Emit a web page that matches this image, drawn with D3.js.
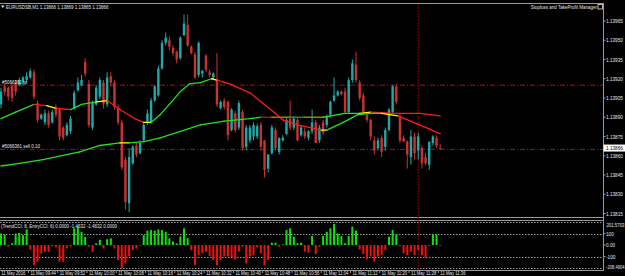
<!DOCTYPE html>
<html>
<head>
<meta charset="utf-8">
<script src="https://cdn.jsdelivr.net/npm/d3@7"></script>
<style>
  html, body { margin: 0; padding: 0; background: #000; overflow: hidden; }
  svg { display: block; }
  text { font-family: "Liberation Sans", Arial, sans-serif; fill: #e6e6e6; }
</style>
</head>
<body>
<svg id="chart" width="625" height="276"></svg>
<script>
// EURUSDSB M1, 11 May 2016 09:36 - 11:36 (one bar per minute)
const open = [
  1.13900,1.13914,1.13913,1.13914,1.13917,1.13915,1.13917,1.13919,1.13921,1.13925,
  1.13901,1.13889,1.13886,1.13893,1.13886,1.13898,1.13896,1.13882,1.13876,1.13879,
  1.13897,1.13911,1.13915,1.13933,1.13916,1.13882,1.13900,1.13906,1.13917,1.13900,
  1.13922,1.13917,1.13897,1.13886,1.13857,1.13823,1.13854,1.13868,1.13862,1.13872,
  1.13886,1.13886,1.13903,1.13907,1.13928,1.13948,1.13950,1.13944,1.13941,1.13936,
  1.13954,1.13962,1.13945,1.13939,1.13923,1.13924,1.13938,1.13925,1.13921,1.13919,
  1.13897,1.13903,1.13902,1.13880,1.13893,1.13882,1.13894,1.13867,1.13872,1.13875,
  1.13875,1.13884,1.13872,1.13850,1.13862,1.13880,1.13863,1.13872,1.13877,1.13889,
  1.13882,1.13888,1.13876,1.13879,1.13874,1.13879,1.13886,1.13872,1.13886,1.13884,
  1.13892,1.13903,1.13907,1.13910,1.13910,1.13894,1.13919,1.13931,1.13917,1.13907,
  1.13892,1.13888,1.13872,1.13866,1.13874,1.13867,1.13880,1.13894,1.13914,1.13890,
  1.13874,1.13871,1.13859,1.13875,1.13864,1.13866,1.13859,1.13853,1.13870,1.13874,
  1.13866
];
const high = [
  1.13913,1.13916,1.13914,1.13917,1.13919,1.13921,1.13922,1.13925,1.13928,1.13927,
  1.13903,1.13893,1.13896,1.13895,1.13896,1.13900,1.13897,1.13883,1.13886,1.13891,
  1.13911,1.13921,1.13923,1.13936,1.13919,1.13903,1.13915,1.13921,1.13919,1.13925,
  1.13925,1.13919,1.13900,1.13888,1.13859,1.13866,1.13868,1.13870,1.13872,1.13886,
  1.13896,1.13905,1.13915,1.13930,1.13950,1.13956,1.13953,1.13946,1.13942,1.13953,
  1.13970,1.13970,1.13946,1.13941,1.13949,1.13927,1.13939,1.13927,1.13925,1.13940,
  1.13903,1.13905,1.13903,1.13897,1.13895,1.13903,1.13896,1.13884,1.13884,1.13886,
  1.13885,1.13886,1.13872,1.13861,1.13884,1.13882,1.13874,1.13876,1.13889,1.13903,
  1.13891,1.13890,1.13884,1.13882,1.13880,1.13896,1.13888,1.13884,1.13888,1.13892,
  1.13903,1.13921,1.13911,1.13911,1.13913,1.13921,1.13935,1.13941,1.13919,1.13909,
  1.13894,1.13889,1.13875,1.13874,1.13876,1.13882,1.13897,1.13915,1.13916,1.13893,
  1.13876,1.13872,1.13880,1.13878,1.13878,1.13868,1.13862,1.13871,1.13876,1.13876,
  1.13869
];
const low = [
  1.13897,1.13907,1.13903,1.13902,1.13907,1.13914,1.13915,1.13917,1.13920,1.13904,
  1.13886,1.13888,1.13884,1.13882,1.13885,1.13890,1.13872,1.13872,1.13875,1.13877,
  1.13896,1.13910,1.13914,1.13922,1.13882,1.13880,1.13899,1.13904,1.13897,1.13898,
  1.13914,1.13896,1.13884,1.13849,1.13818,1.13816,1.13853,1.13859,1.13861,1.13871,
  1.13884,1.13885,1.13902,1.13906,1.13927,1.13946,1.13942,1.13938,1.13932,1.13935,
  1.13953,1.13945,1.13939,1.13920,1.13921,1.13921,1.13925,1.13921,1.13919,1.13898,
  1.13896,1.13896,1.13872,1.13879,1.13878,1.13880,1.13864,1.13864,1.13870,1.13872,
  1.13873,1.13864,1.13843,1.13847,1.13861,1.13864,1.13861,1.13871,1.13876,1.13880,
  1.13880,1.13871,1.13875,1.13873,1.13872,1.13877,1.13870,1.13870,1.13876,1.13882,
  1.13890,1.13902,1.13906,1.13907,1.13893,1.13893,1.13917,1.13917,1.13903,1.13893,
  1.13886,1.13872,1.13861,1.13864,1.13859,1.13864,1.13879,1.13893,1.13900,1.13870,
  1.13871,1.13850,1.13853,1.13857,1.13857,1.13850,1.13853,1.13849,1.13868,1.13866,
  1.13865
];
const close = [
  1.13910,1.13910,1.13906,1.13905,1.13910,1.13919,1.13921,1.13922,1.13926,1.13906,
  1.13888,1.13892,1.13893,1.13884,1.13894,1.13892,1.13875,1.13874,1.13884,1.13889,
  1.13909,1.13917,1.13919,1.13924,1.13884,1.13901,1.13913,1.13919,1.13900,1.13921,
  1.13917,1.13898,1.13886,1.13851,1.13824,1.13859,1.13867,1.13861,1.13870,1.13884,
  1.13893,1.13903,1.13914,1.13928,1.13948,1.13952,1.13945,1.13940,1.13935,1.13952,
  1.13963,1.13946,1.13940,1.13921,1.13948,1.13926,1.13927,1.13923,1.13924,1.13900,
  1.13902,1.13898,1.13876,1.13896,1.13880,1.13901,1.13866,1.13882,1.13882,1.13884,
  1.13883,1.13867,1.13849,1.13861,1.13882,1.13866,1.13874,1.13874,1.13888,1.13882,
  1.13889,1.13872,1.13882,1.13875,1.13879,1.13886,1.13870,1.13882,1.13878,1.13890,
  1.13902,1.13907,1.13910,1.13908,1.13894,1.13919,1.13932,1.13919,1.13905,1.13894,
  1.13888,1.13875,1.13864,1.13872,1.13863,1.13880,1.13896,1.13914,1.13902,1.13872,
  1.13871,1.13861,1.13875,1.13862,1.13875,1.13854,1.13854,1.13871,1.13875,1.13868,
  1.13866
];

// TrendCCI histogram, one value per bar
const cci = [
  100,90,-15,15,100,105,85,135,-40,-175,
  -145,-75,-60,-60,-10,-20,-145,-145,-30,-15,
  145,160,115,70,-15,-60,15,45,-30,50,
  58,-30,-130,-200,-160,-100,-45,-30,-5,85,
  125,130,125,135,130,115,58,30,15,75,
  145,58,-45,-175,-87,-72,-58,-95,-130,-175,
  -130,-100,-100,-110,-125,-58,-15,-160,-100,-87,
  -20,-72,-175,-130,20,20,-15,5,130,145,
  72,15,20,-58,-67,78,-78,-15,78,115,
  145,183,100,78,15,78,160,125,-38,-78,
  -125,-100,-145,-100,-87,-43,72,130,95,-10,
  -72,-87,-58,-87,-43,-87,-110,-10,92,92,
  -1.4632
];

// coloured moving averages: bar index, value, state
const fastIdx = [0,4,9,12.5,15,19,22,26,29,32.5,36.5,39,41,43.5,46,49,51.5,54.5,57.5,59,
  62.5,68,71.5,74.5,77,81,84.5,87.5,89,93.5,97.5,101,104,108.5,113.5,117,120];
const fastVal = [1.13889,1.13894,1.13900,1.13899,1.13897,1.13896,1.13900,1.13902,1.13903,1.13896,
  1.13889,1.13886,1.13886,1.13892,1.13900,1.13910,1.13916,1.13917,1.13920,1.13919,
  1.13916,1.13909,1.13901,1.13894,1.13888,1.13884,1.13882,1.13880,1.13880,1.13886,
  1.13892,1.13893,1.13893,1.13891,1.13885,1.13881,1.13877];
const fastState = ["up","up","down","flat","down","up","up","flat","down","down",
  "down","flat","up","up","up","up","up","up","flat","down",
  "down","down","down","down","down","down","down","flat","up","up",
  "up","up","flat","down","down","down","down"];

const slowIdx = [0,5,11.5,21.5,27,32.5,35,39,43.5,49,54.5,61,68,71,74,79,83,88,94,98,101,108,114.5,120];
const slowVal = [1.13852,1.13854,1.13857,1.13863,1.13868,1.13870,1.13870,1.13871,1.13874,1.13879,
  1.13884,1.13887,1.13889,1.13890,1.13890,1.13890,1.13890,1.13890,1.13893,1.13893,
  1.13894,1.13893,1.13893,1.13891];
const slowState = ["up","up","up","up","up","flat","up","up","up","up",
  "up","up","up","weakDown","weakFlat","weakUp","weakFlat","up","up","flat",
  "down","down","down","down"];

const priceTicks = [1.13965,1.13950,1.13935,1.13920,1.13905,1.13890,1.13875,1.13860,1.13845,1.13830,1.13815];
const lastPrice = 1.13866;
const tpPrice = 1.13915;
const sellPrice = 1.13865;
const separatorBar = 114;

const cciLevels = [200,100,-100,-200];
const cciAxis = [[100,"100"],[0,"0.00"],[-100,"-100"]];
const cciMax = "201.5703";
const cciMin = "-208.4904";

const timeIdx = [0,8,16,24,32,40,48,56,64,72,80,88,96,104,112,120];
const timeLabels = ["11 May 2016","11 May 09:44","11 May 09:52","11 May 10:00","11 May 10:08",
  "11 May 10:16","11 May 10:24","11 May 10:32","11 May 10:40","11 May 10:48","11 May 10:56",
  "11 May 11:04","11 May 11:12","11 May 11:20","11 May 11:28","11 May 11:36"];

const titleText = "EURUSDSB,M1  1.13866 1.13869 1.13865 1.13866";
const cciTitle = "(TrendCCI: 8, EntryCCI: 6) 0.0000 -1.4632 -1.4632 0.0000";

// ---------------------------------------------------------------
const svg = d3.select("#chart");
const plotRight = 603;
const n = open.length;
const step = 3.66;

const x = d3.scaleLinear().domain([0, n - 1]).range([1, 1 + (n - 1) * step]);
const y = d3.scaleLinear().domain([1.13815, 1.13965]).range([213.5, 21]);
const yc = d3.scaleLinear().domain([-200, 200]).range([268, 222]);

const bull = "#1fa9a9";
const bear = "#c83232";
const maColor = {
  up: "#22e022", down: "#ff1a1a", flat: "#ffff00",
  weakUp: "#1a8c1a", weakDown: "#8c1a1a", weakFlat: "#8c8c00"
};
const grey = "#9a9a9a";

function label(g, px, py, s, anchor, size) {
  return g.append("text")
    .attr("transform", `translate(${px},${py}) scale(0.82,1)`)
    .attr("font-size", size || 5.5)
    .attr("text-anchor", anchor || "start")
    .text(s);
}

svg.append("rect").attr("width", 625).attr("height", 276).attr("fill", "#000");

// window frames
const frame = svg.append("g").attr("stroke", grey).attr("stroke-width", 1);
frame.append("line").attr("x1", 0).attr("x2", plotRight).attr("y1", 3.5).attr("y2", 3.5);
frame.append("line").attr("x1", 0).attr("x2", plotRight).attr("y1", 217.5).attr("y2", 217.5);
frame.append("line").attr("x1", 0).attr("x2", plotRight).attr("y1", 220.5).attr("y2", 220.5);
frame.append("line").attr("x1", 0).attr("x2", plotRight).attr("y1", 270.5).attr("y2", 270.5);
frame.append("line").attr("x1", plotRight + 0.5).attr("x2", plotRight + 0.5).attr("y1", 3).attr("y2", 271);

// order lines
svg.append("line")
  .attr("x1", 0).attr("x2", plotRight)
  .attr("y1", y(tpPrice)).attr("y2", y(tpPrice))
  .attr("stroke", "#b01010").attr("stroke-dasharray", "5,2,1,2");
svg.append("line")
  .attr("x1", 0).attr("x2", plotRight)
  .attr("y1", y(sellPrice)).attr("y2", y(sellPrice))
  .attr("stroke", "#3a3a88").attr("stroke-dasharray", "5,2,1,2");

// CCI levels
svg.append("g").selectAll("line")
  .data(cciLevels)
  .join("line")
  .attr("x1", 0).attr("x2", plotRight)
  .attr("y1", (d) => Math.round(yc(d)) + 0.5)
  .attr("y2", (d) => Math.round(yc(d)) + 0.5)
  .attr("stroke", grey)
  .attr("stroke-dasharray", "1.5,1.5");

// separator
svg.append("line")
  .attr("x1", x(separatorBar)).attr("x2", x(separatorBar))
  .attr("y1", 4).attr("y2", 270)
  .attr("stroke", "#8c0000")
  .attr("stroke-dasharray", "2,1");

// candles
const bars = d3.range(n);
const colorOf = (i) => (close[i] > open[i] ? bull : bear);

svg.append("g").selectAll("line")
  .data(bars)
  .join("line")
  .attr("x1", (i) => x(i)).attr("x2", (i) => x(i))
  .attr("y1", (i) => y(high[i])).attr("y2", (i) => y(low[i]))
  .attr("stroke", colorOf)
  .attr("stroke-width", 1);

svg.append("g").selectAll("rect")
  .data(bars)
  .join("rect")
  .attr("x", (i) => x(i) - 1.2)
  .attr("width", 2.4)
  .attr("y", (i) => y(Math.max(open[i], close[i])))
  .attr("height", (i) => Math.max(1, Math.abs(y(open[i]) - y(close[i]))))
  .attr("fill", colorOf);

// moving averages, drawn segment by segment in their state colour
function drawMA(idx, val, state) {
  const segs = d3.range(idx.length - 1).map((k) => ({
    pts: [[idx[k], val[k]], [idx[k + 1], val[k + 1]]],
    s: state[k]
  }));
  const line = d3.line().x((d) => x(d[0])).y((d) => y(d[1]));
  svg.append("g").selectAll("path")
    .data(segs)
    .join("path")
    .attr("d", (d) => line(d.pts))
    .attr("fill", "none")
    .attr("stroke", (d) => maColor[d.s])
    .attr("stroke-width", 1.3)
    .attr("stroke-linecap", "round");
}
drawMA(slowIdx, slowVal, slowState);
drawMA(fastIdx, fastVal, fastState);

// CCI histogram
svg.append("g").selectAll("rect")
  .data(bars)
  .join("rect")
  .attr("x", (i) => x(i) - 1)
  .attr("width", 2)
  .attr("y", (i) => Math.min(yc(cci[i]), yc(0)))
  .attr("height", (i) => Math.max(0.8, Math.abs(yc(cci[i]) - yc(0))))
  .attr("fill", (i) => (cci[i] >= 0 ? "#10e010" : "#ee1010"));

// price axis
const pa = svg.append("g");
priceTicks.forEach((p) => {
  pa.append("line")
    .attr("x1", plotRight).attr("x2", plotRight + 2.5)
    .attr("y1", y(p)).attr("y2", y(p))
    .attr("stroke", grey);
  label(pa, plotRight + 3, y(p) + 2, p.toFixed(5), "start", 5.7);
});
pa.append("rect")
  .attr("x", plotRight + 0.5).attr("y", y(lastPrice) - 3.5)
  .attr("width", 22).attr("height", 7)
  .attr("fill", "#fff");
label(pa, plotRight + 3, y(lastPrice) + 2, lastPrice.toFixed(5), "start", 5.7)
  .style("fill", "#000");

// CCI axis
const ca = svg.append("g");
cciAxis.forEach(([v, s]) => {
  ca.append("line")
    .attr("x1", plotRight).attr("x2", plotRight + 2.5)
    .attr("y1", yc(v)).attr("y2", yc(v))
    .attr("stroke", grey);
  label(ca, plotRight + 3, yc(v) + 2, s, "start", 5.7);
});
label(ca, 624.5, 226.5, cciMax, "end", 5.3);
label(ca, 624.5, 269, cciMin, "end", 5.0);

// time axis
const ta = svg.append("g");
timeIdx.forEach((i, k) => {
  const tx = x(i) - step / 2;
  ta.append("line")
    .attr("x1", tx).attr("x2", tx)
    .attr("y1", 270.5).attr("y2", 273)
    .attr("stroke", grey);
  label(ta, tx + 2, 275.3, timeLabels[k], "start", 5.2);
});

// titles and object labels
svg.append("path")
  .attr("d", "M1,5.5 L4.5,5.5 L2.75,8 Z")
  .attr("fill", "#e6e6e6");
label(svg, 6, 8.5, titleText);
label(svg, 597, 8.5, "Stoploss and TakeProfit Manager", "end");
svg.append("rect")
  .attr("x", 598).attr("y", 4.5).attr("width", 4.5).attr("height", 4.5)
  .attr("fill", "none").attr("stroke", "#e6e6e6").attr("stroke-width", 0.8);
label(svg, 2, y(tpPrice) - 1.5, "#5066361 tp");
label(svg, 2, y(sellPrice) - 1.5, "#5066361 sell 0.10");
label(svg, 1, 228, cciTitle);
</script>
</body>
</html>
